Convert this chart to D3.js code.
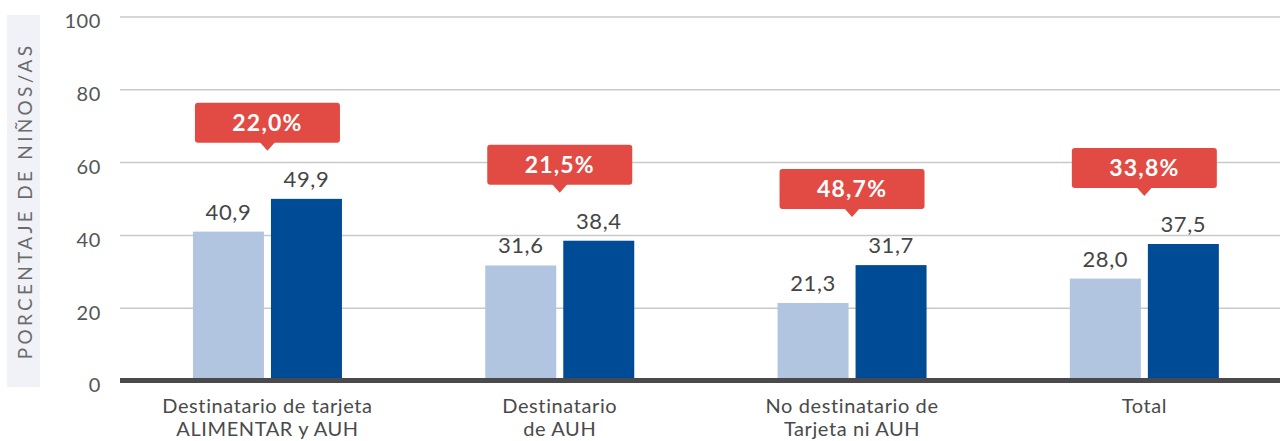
<!DOCTYPE html>
<html lang="es">
<head>
    <meta charset="UTF-8">
    <title></title>
    <style>
        body { margin: 0; background: #fff; }
        text { font-family: Lato, "Open Sans", sans-serif; }
    </style>
</head>
<script src="https://d3js.org/d3.v7.min.js"></script>
<body>
<script>
    // data
    var categories = [
        ["Destinatario de tarjeta", "ALIMENTAR y AUH"],
        ["Destinatario", "de AUH"],
        ["No destinatario de", "Tarjeta ni AUH"],
        ["Total"]
    ];
    var seriesA = [40.9, 31.6, 21.3, 28.0];   // light bars
    var seriesB = [49.9, 38.4, 31.7, 37.5];   // dark bars
    var changes = ["22,0%", "21,5%", "48,7%", "33,8%"];
    var yTicks = [0, 20, 40, 60, 80, 100];

    var width = 1280, height = 441;

    var svg = d3.select("body")
        .append("svg")
        .attr("width", width)
        .attr("height", height);

    var keys = categories.map(function (d) { return d.join(" "); });

    var yScale = d3.scaleLinear().domain([0, 100]).range([380.5, 16.5]);
    var x0 = d3.scaleBand().domain(keys).range([121.3, 1290.5]);
    var x1 = d3.scaleBand().domain(["a", "b"]).range([0, 149]).paddingInner(0.09);

    var fmt = function (v) { return d3.format(".1f")(v).replace(".", ","); };

    // y axis title box
    svg.append("rect")
        .attr("x", 7).attr("y", 15)
        .attr("width", 33).attr("height", 372)
        .attr("fill", "#f1f2f8");
    svg.append("text")
        .attr("transform", "translate(31.5,201) rotate(-90)")
        .attr("text-anchor", "middle")
        .attr("font-size", "19px")
        .attr("letter-spacing", "3.3px")
        .attr("fill", "#6b6b6b")
        .text("PORCENTAJE DE NIÑOS/AS");

    // gridlines + tick labels via axis
    var yAxis = svg.append("g")
        .attr("transform", "translate(120,0)")
        .call(d3.axisLeft(yScale).tickValues(yTicks).tickSize(-1160).tickPadding(19)
            .tickFormat(function (d) { return d; }));
    yAxis.select(".domain").remove();
    yAxis.selectAll(".tick line").attr("stroke", "#c9c9c9").attr("stroke-width", 1.5);
    yAxis.selectAll(".tick text")
        .attr("y", 5)
        .attr("font-size", "20px")
        .attr("letter-spacing", "0.6px")
        .attr("fill", "#555")
        .style("font-family", "Lato, 'Open Sans', sans-serif");

    // bar groups
    var groups = svg.selectAll(".grp")
        .data(keys)
        .enter().append("g")
        .attr("class", "grp")
        .attr("transform", function (d) {
            return "translate(" + (x0(d) + x0.bandwidth() / 2 - 74.5) + ",0)";
        });

    groups.each(function (k, i) {
        var g = d3.select(this);
        var vals = [{key: "a", v: seriesA[i], c: "#b1c4e0"}, {key: "b", v: seriesB[i], c: "#004b96"}];
        g.selectAll("rect")
            .data(vals)
            .enter().append("rect")
            .attr("x", function (d) { return x1(d.key); })
            .attr("y", function (d) { return yScale(d.v); })
            .attr("width", x1.bandwidth())
            .attr("height", function (d) { return yScale(0) - yScale(d.v); })
            .attr("fill", function (d) { return d.c; });
        g.selectAll(".val")
            .data(vals)
            .enter().append("text")
            .attr("class", "val")
            .attr("x", function (d) { return x1(d.key) + x1.bandwidth() / 2; })
            .attr("y", function (d) { return yScale(d.v) - 12; })
            .attr("text-anchor", "middle")
            .attr("font-size", "22px")
            .attr("letter-spacing", "0.6px")
            .attr("fill", "#454545")
            .text(function (d) { return fmt(d.v); });

        // callout
        var cx = 74.5;
        var tip = yScale(Math.max(seriesA[i], seriesB[i])) - 48;
        var bw = 145, bh = 40, bot = tip - 8;
        g.append("rect")
            .attr("x", cx - bw / 2).attr("y", bot - bh)
            .attr("width", bw).attr("height", bh)
            .attr("rx", 3)
            .attr("fill", "#e24b44");
        g.append("path")
            .attr("d", "M" + (cx - 8) + "," + (bot - 1) + "L" + cx + "," + tip + "L" + (cx + 8) + "," + (bot - 1) + "Z")
            .attr("fill", "#e24b44");
        g.append("text")
            .attr("x", cx).attr("y", bot - bh / 2 + 8)
            .attr("text-anchor", "middle")
            .attr("font-size", "23px")
            .attr("font-weight", "bold")
            .attr("letter-spacing", "1.2px")
            .attr("fill", "#fff")
            .text(changes[i]);

        // category label
        var lab = g.append("text")
            .attr("text-anchor", "middle")
            .attr("font-size", "20px")
            .attr("letter-spacing", "0.6px")
            .attr("fill", "#4a4a4a");
        categories[i].forEach(function (line, j) {
            lab.append("tspan").attr("x", cx).attr("y", 413 + j * 23).text(line);
        });
    });

    // baseline
    svg.append("line")
        .attr("x1", 120).attr("x2", 1280)
        .attr("y1", yScale(0)).attr("y2", yScale(0))
        .attr("stroke", "#4a4a4c")
        .attr("stroke-width", 5);
</script>
</body>
</html>
